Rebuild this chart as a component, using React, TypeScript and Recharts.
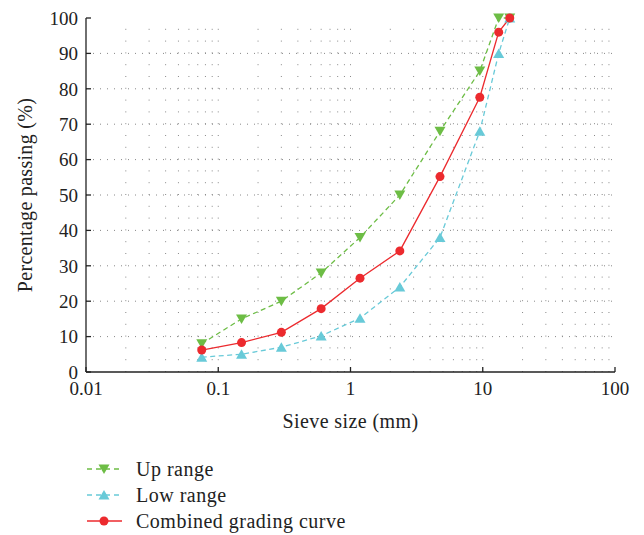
import React from 'react';
import { LineChart, Line, XAxis, YAxis, ReferenceLine } from 'recharts';

const sieveSizes = [0.075, 0.15, 0.3, 0.6, 1.18, 2.36, 4.75, 9.5, 13.2, 16];
const upRange = [8, 15, 20, 28, 38, 50, 68, 85, 100, 100];
const lowRange = [4.2, 5, 7, 10.2, 15.2, 24, 38, 68, 90, 100];
const combinedCurve = [6.2, 8.3, 11.2, 17.9, 26.5, 34.2, 55.2, 77.6, 96, 100];

const xTicks = [0.01, 0.1, 1, 10, 100];
const xTickLabels = ['0.01', '0.1', '1', '10', '100'];
const yTicks = [0, 10, 20, 30, 40, 50, 60, 70, 80, 90, 100];
const xGridValues = [
  0.02, 0.03, 0.04, 0.05, 0.06, 0.07, 0.08, 0.09, 0.1,
  0.2, 0.3, 0.4, 0.5, 0.6, 0.7, 0.8, 0.9, 1,
  2, 3, 4, 5, 6, 7, 8, 9, 10,
  20, 30, 40, 50, 60, 70, 80, 90,
];
const yGridValues = [10, 20, 30, 40, 50, 60, 70, 80, 90];

const seriesNames = ['Up range', 'Low range', 'Combined grading curve'];

const GREEN = '#6dbd45';
const CYAN = '#68cad8';
const RED = '#ec2a2e';
const FONT = '"Liberation Serif", "Times New Roman", serif';
const AXIS = '#222';

const data = sieveSizes.map((x, i) => ({
  x,
  up: upRange[i],
  low: lowRange[i],
  comb: combinedCurve[i],
}));

const fmtX = (v: number) => {
  const i = xTicks.indexOf(v);
  return i >= 0 ? xTickLabels[i] : String(v);
};

const downTri = (color: string) => (props: any) => {
  const { cx, cy, index } = props;
  if (cx == null || cy == null) return <g key={`dn${index}`} />;
  return (
    <path
      key={`dn${index}`}
      d={`M${cx - 5.5},${cy - 4.5}L${cx + 5.5},${cy - 4.5}L${cx},${cy + 5}Z`}
      fill={color}
    />
  );
};
const upTri = (color: string) => (props: any) => {
  const { cx, cy, index } = props;
  if (cx == null || cy == null) return <g key={`up${index}`} />;
  return (
    <path
      key={`up${index}`}
      d={`M${cx - 5.5},${cy + 4.5}L${cx + 5.5},${cy + 4.5}L${cx},${cy - 5}Z`}
      fill={color}
    />
  );
};
const circ = (color: string) => (props: any) => {
  const { cx, cy, index } = props;
  if (cx == null || cy == null) return <g key={`c${index}`} />;
  return <circle key={`c${index}`} cx={cx} cy={cy} r={4.5} fill={color} />;
};

const YLabel = (props: any) => {
  const vb = props.viewBox || {};
  const x = (vb.x ?? 0) + 25;
  const y = (vb.y ?? 0) + (vb.height ?? 0) / 2;
  return (
    <text
      x={x}
      y={y}
      transform={`rotate(-90, ${x}, ${y})`}
      textAnchor="middle"
      dominantBaseline="central"
      fontFamily={FONT}
      fontSize={20}
      letterSpacing={0.3}
      fill="#222"
    >
      Percentage passing (%)
    </text>
  );
};

const XLabel = (props: any) => {
  const vb = props.viewBox || {};
  const x = (vb.x ?? 0) + (vb.width ?? 0) / 2;
  const y = (vb.y ?? 0) + 56;
  return (
    <text x={x} y={y} textAnchor="middle" fontFamily={FONT} fontSize={20} letterSpacing={0.4} fill="#222">
      Sieve size (mm)
    </text>
  );
};

const LegendRow = ({ top, color, dash, marker, label }: any) => (
  <div style={{ position: 'absolute', left: 86, top: top - 11, height: 22, display: 'flex', alignItems: 'center' }}>
    <svg width={38} height={22} style={{ display: 'block' }}>
      <line x1={1} x2={36} y1={11} y2={11} stroke={color} strokeWidth={1.3} strokeDasharray={dash} />
      {marker === 'down' && <path d="M12.5,6.5L23.5,6.5L18,16Z" fill={color} />}
      {marker === 'up' && <path d="M12.5,15.5L23.5,15.5L18,6Z" fill={color} />}
      {marker === 'circle' && <circle cx={18} cy={11} r={4.5} fill={color} />}
    </svg>
    <span style={{ marginLeft: 12, fontFamily: FONT, fontSize: 20, letterSpacing: 0.5, color: '#222', lineHeight: '22px', whiteSpace: 'nowrap' }}>
      {label}
    </span>
  </div>
);

export default function App() {
  return (
    <div style={{ position: 'absolute', left: 0, top: 0, width: 644, height: 535, background: '#fff' }}>
      <LineChart
        width={644}
        height={535}
        data={data}
        margin={{ top: 18, right: 29, bottom: 103, left: 0 }}
      >
        <XAxis
          dataKey="x"
          type="number"
          scale="log"
          domain={[0.01, 100]}
          allowDataOverflow
          ticks={xTicks}
          tickFormatter={fmtX}
          tickSize={-5}
          tickMargin={15}
          height={60}
          stroke={AXIS}
          strokeWidth={1.3}
          tick={{ fontFamily: FONT, fontSize: 19, fill: '#222' }}
          label={<XLabel />}
        />
        <XAxis
          xAxisId="top"
          orientation="top"
          dataKey="x"
          type="number"
          scale="log"
          domain={[0.01, 100]}
          allowDataOverflow
          ticks={xTicks}
          tickFormatter={() => ''}
          tickSize={-5}
          height={0}
          stroke={AXIS}
          strokeWidth={1.3}
        />
        <YAxis
          type="number"
          domain={[0, 100]}
          ticks={yTicks}
          tickSize={-5}
          tickMargin={13}
          width={86}
          stroke={AXIS}
          strokeWidth={1.3}
          tick={{ fontFamily: FONT, fontSize: 19, fill: '#222' }}
          label={<YLabel />}
        />
        <YAxis
          yAxisId="right"
          orientation="right"
          type="number"
          domain={[0, 100]}
          ticks={yTicks}
          tickFormatter={() => ''}
          tickSize={-5}
          width={0}
          stroke={AXIS}
          strokeWidth={1.3}
        />
        {xGridValues.map((v) => (
          <ReferenceLine key={`gx${v}`} x={v} stroke="#888" strokeWidth={1} strokeDasharray="1 10.8" />
        ))}
        {yGridValues.map((v) => (
          <ReferenceLine key={`gy${v}`} y={v} stroke="#888" strokeWidth={1} strokeDasharray="1 6" />
        ))}
        <Line
          dataKey="up"
          name={seriesNames[0]}
          stroke={GREEN}
          strokeWidth={1.3}
          strokeDasharray="5 3.5"
          dot={downTri(GREEN)}
          activeDot={false}
          isAnimationActive={false}
        />
        <Line
          dataKey="low"
          name={seriesNames[1]}
          stroke={CYAN}
          strokeWidth={1.3}
          strokeDasharray="5 3.5"
          dot={upTri(CYAN)}
          activeDot={false}
          isAnimationActive={false}
        />
        <Line
          dataKey="comb"
          name={seriesNames[2]}
          stroke={RED}
          strokeWidth={1.3}
          dot={circ(RED)}
          activeDot={false}
          isAnimationActive={false}
        />
      </LineChart>
      <LegendRow top={469} color={GREEN} dash="5 4" marker="down" label={seriesNames[0]} />
      <LegendRow top={495} color={CYAN} dash="5 4" marker="up" label={seriesNames[1]} />
      <LegendRow top={521} color={RED} marker="circle" label={seriesNames[2]} />
    </div>
  );
}
